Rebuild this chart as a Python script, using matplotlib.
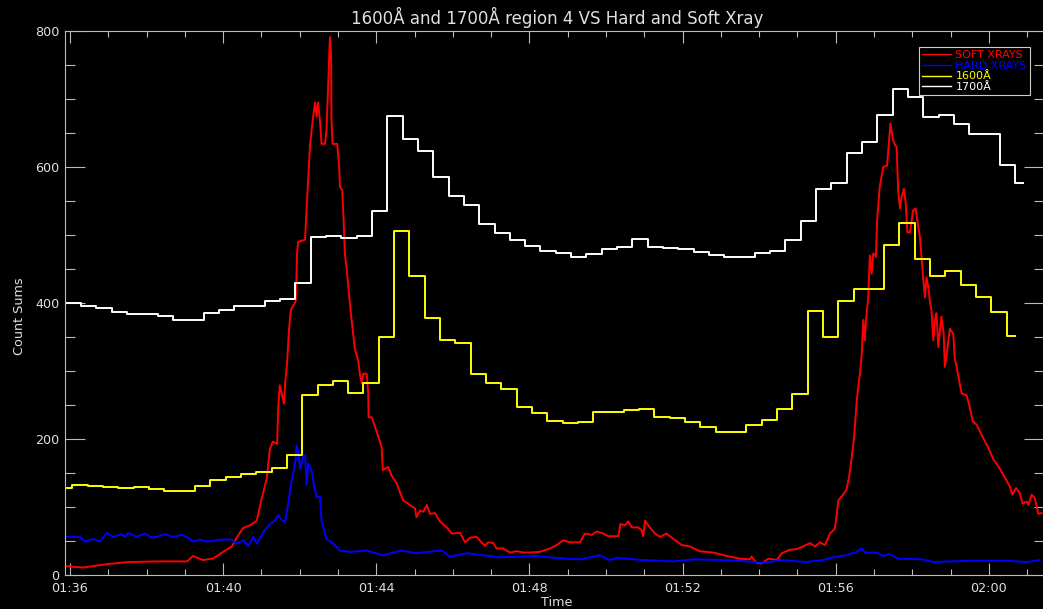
import matplotlib
matplotlib.use("Agg")
import matplotlib.pyplot as plt
import numpy as np
from matplotlib.ticker import MultipleLocator, FixedLocator, FixedFormatter

# ---------------- data (time in minutes after 01:36:00) ----------------
# 1700 A step series: 24 s cadence
t1700_start = -0.112
cadence = 0.4
v1700 = [400, 396, 392, 387, 384, 384, 381, 375, 375, 386, 390, 396, 396, 403, 406,
         430, 497, 498, 496, 498, 536, 675, 641, 623, 585, 558, 544, 516, 503, 492,
         484, 477, 474, 468, 472, 479, 482, 494, 482, 481, 480, 475, 470, 467, 467,
         474, 477, 493, 520, 567, 577, 620, 637, 677, 715, 703, 674, 677, 663, 649,
         649, 603, 577]
t1700_end = 24.89

# 1600 A step series
t1600_first = -0.112
t1600_start = 0.065
v1600 = [128, 133, 131, 129, 128, 130, 126, 123, 123, 131, 140, 144, 149, 152, 157,
         176, 264, 280, 285, 267, 282, 350, 506, 439, 378, 346, 341, 296, 282, 273,
         247, 238, 226, 223, 225, 239, 239, 242, 244, 233, 231, 225, 217, 211, 210,
         220, 228, 244, 266, 388, 350, 403, 421, 421, 485, 517, 465, 439, 447, 426,
         409, 387, 351]
t1600_end = 24.68

# Soft X-rays
soft_t = [-0.13, 0.34, 0.97, 1.51, 2.27, 3.06, 3.21, 3.47, 3.73, 4.00, 4.23, 4.39, 4.52,
          4.70, 4.88, 5.01, 5.14, 5.22, 5.30, 5.41, 5.44, 5.48, 5.59, 5.62, 5.67, 5.72,
          5.77, 5.82, 5.90, 5.93, 5.96, 6.14, 6.18, 6.24, 6.27, 6.33, 6.40, 6.44, 6.48,
          6.53, 6.57, 6.66, 6.70, 6.75, 6.79, 6.82, 6.83, 6.86, 6.98, 7.03, 7.05, 7.11,
          7.14, 7.18, 7.23, 7.34, 7.44, 7.53, 7.57, 7.62, 7.66, 7.75, 7.79, 7.80, 7.88,
          8.01, 8.14, 8.17, 8.31, 8.40, 8.53, 8.70, 8.88, 9.01, 9.05, 9.14, 9.23, 9.32,
          9.40, 9.53, 9.66, 9.84, 9.97, 10.19, 10.32, 10.45, 10.62, 10.75, 10.84, 10.92,
          11.06, 11.14, 11.32, 11.49, 11.67, 11.84, 12.01, 12.27, 12.54, 12.71, 12.88,
          13.06, 13.32, 13.45, 13.63, 13.76, 13.93, 14.06, 14.32, 14.38, 14.49, 14.58,
          14.67, 14.84, 14.93, 14.97, 15.02, 15.10, 15.28, 15.41, 15.58, 15.76, 15.98,
          16.19, 16.45, 16.80, 17.15, 17.50, 17.76, 17.80, 17.93, 18.06, 18.24, 18.46,
          18.59, 18.80, 18.98, 19.15, 19.33, 19.46, 19.59, 19.72, 19.85, 19.98, 20.07,
          20.19, 20.28, 20.35, 20.41, 20.48, 20.55, 20.61, 20.63, 20.68, 20.72, 20.76,
          20.79, 20.85, 20.89, 20.94, 20.98, 21.05, 21.08, 21.15, 21.24, 21.34, 21.40,
          21.43, 21.49, 21.55, 21.59, 21.63, 21.68, 21.72, 21.78, 21.83, 21.87, 21.94,
          22.02, 22.09, 22.15, 22.20, 22.24, 22.29, 22.33, 22.37, 22.42, 22.46, 22.50,
          22.55, 22.59, 22.63, 22.68, 22.76, 22.82, 22.85, 22.90, 22.98, 23.07, 23.11,
          23.15, 23.22, 23.29, 23.42, 23.50, 23.58, 23.68, 23.81, 23.98, 24.11, 24.29,
          24.46, 24.55, 24.61, 24.71, 24.81, 24.88, 24.99, 25.03, 25.12, 25.20, 25.29,
          25.38]
soft_v = [13, 11, 16, 19, 20, 20, 28, 22, 24, 34, 42, 58, 69,
          73, 80, 113, 142, 185, 196, 193, 247, 279, 252, 282, 311, 360,
          390, 395, 403, 473, 490, 493, 539, 600, 632, 664, 695, 674, 695,
          667, 634, 634, 654, 728, 791, 762, 669, 634, 634, 602, 571, 566,
          531, 473, 448, 383, 333, 315, 296, 282, 296, 296, 267, 232, 232,
          211, 188, 154, 159, 146, 135, 110, 103, 98, 85, 95, 93, 103,
          90, 91, 79, 70, 61, 62, 48, 55, 56, 48, 43, 48,
          47, 39, 39, 33, 35, 33, 33, 34, 39, 44, 51,
          48, 48, 61, 59, 64, 61, 57, 57, 75, 73, 79,
          70, 70, 66, 57, 80, 73, 61, 56, 61, 53, 44,
          42, 35, 33, 28, 24, 23, 27, 18, 17, 24, 22,
          32, 37, 38, 42, 47, 42, 48, 44, 61, 68, 110,
          118, 125, 144, 169, 203, 257, 287, 294, 325, 375, 345,
          375, 408, 470, 443, 473, 468, 521, 571, 600, 602, 644,
          664, 642, 632, 630, 566, 539, 556, 568, 546, 504, 504,
          536, 539, 514, 497, 468, 433, 408, 438, 423, 402, 390,
          345, 375, 385, 335, 380, 355, 306, 325, 362, 355, 318,
          309, 287, 267, 264, 247, 226, 221, 206, 188, 171, 156,
          139, 130, 118, 128, 120, 105, 108, 103, 118, 113, 90,
          91]

# Hard X-rays
hard_t = [-0.13, 0.26, 0.39, 0.61, 0.78, 0.96, 1.13, 1.35, 1.44, 1.52, 1.74, 1.96, 2.13,
          2.26, 2.48, 2.70, 2.92, 3.05, 3.22, 3.40, 3.57, 3.92, 4.22, 4.35, 4.53, 4.66,
          4.79, 4.88, 5.05, 5.22, 5.35, 5.44, 5.53, 5.62, 5.70, 5.79, 5.88, 5.92, 5.96,
          6.01, 6.05, 6.09, 6.14, 6.18, 6.22, 6.31, 6.35, 6.44, 6.53, 6.57, 6.70, 6.88,
          7.05, 7.31, 7.75, 8.18, 8.62, 9.05, 9.32, 9.71, 9.92, 10.36, 10.79, 11.23,
          11.67, 12.10, 12.54, 12.97, 13.32, 13.84, 14.10, 14.28, 14.54, 14.97, 15.76,
          16.28, 17.15, 17.67, 18.19, 18.54, 19.24, 19.67, 20.02, 20.28, 20.55, 20.68,
          20.76, 21.07, 21.24, 21.40, 21.63, 22.28, 22.55, 22.98, 23.59, 24.46, 24.99,
          25.33]
hard_v = [56, 56, 49, 53, 49, 62, 56, 60, 56, 62, 56, 61, 55,
          56, 60, 56, 59, 56, 49, 52, 49, 52, 52, 46, 51, 43,
          56, 46, 63, 75, 80, 88, 81, 78, 105, 139, 164, 191, 181,
          156, 166, 176, 176, 132, 164, 154, 139, 115, 115, 80, 53, 46,
          36, 34, 36, 29, 36, 32, 34, 36, 27, 32, 29, 26,
          27, 28, 26, 24, 23, 29, 22, 25, 24, 22, 20,
          23, 22, 20, 18, 22, 19, 22, 27, 29, 34, 39,
          33, 33, 28, 31, 24, 23, 19, 20, 21, 21, 19,
          22]

x_tick_pos = [0, 4, 8, 12, 16, 20, 24]
x_tick_labels = ["01:36", "01:40", "01:44", "01:48", "01:52", "01:56", "02:00"]
title = "1600Å and 1700Å region 4 VS Hard and Soft Xray"

# ---------------- build step arrays ----------------
t17 = list(t1700_start + cadence * np.arange(len(v1700))) + [t1700_end]
y17 = v1700 + [v1700[-1]]
t16 = [t1600_first] + list(t1600_start + cadence * np.arange(len(v1600) - 1)) + [t1600_end]
y16 = v1600 + [v1600[-1]]

# ---------------- figure ----------------
W, H = 1043, 609
fig = plt.figure(figsize=(W / 100, H / 100), dpi=100, facecolor="black")
ax = fig.add_axes([65 / W, (H - 575) / H, 979 / W, 544 / H], facecolor="black")

lw = 1.4
ax.plot(soft_t, soft_v, color="#ff0000", lw=lw, label="SOFT XRAYS")
ax.plot(hard_t, hard_v, color="#0000ff", lw=lw, label="HARD XRAYS")
ax.plot(t16, y16, drawstyle="steps-post", color="#ffff00", lw=lw, label="1600Å")
ax.plot(t17, y17, drawstyle="steps-post", color="#ffffff", lw=lw, label="1700Å")

ax.set_xlim(-0.13, 25.44)
ax.set_ylim(0, 800)

ax.xaxis.set_major_locator(FixedLocator(x_tick_pos))
ax.xaxis.set_major_formatter(FixedFormatter(x_tick_labels))
ax.xaxis.set_minor_locator(MultipleLocator(1))
ax.yaxis.set_major_locator(MultipleLocator(200))
ax.yaxis.set_minor_locator(MultipleLocator(50))

axc = "#bbbbbb"
txtc = "#e0e0e0"
ax.tick_params(which="both", direction="in", top=True, right=True, color=axc,
               labelcolor=txtc, labelsize=9.2, width=0.8)
ax.tick_params(axis="x", which="major", length=8.6, pad=5)
ax.tick_params(axis="x", which="minor", length=4.3)
ax.tick_params(axis="y", which="major", length=14.4, pad=4)
ax.tick_params(axis="y", which="minor", length=7.2)
for sp in ax.spines.values():
    sp.set_color(axc)
    sp.set_linewidth(0.8)

ax.set_xlabel("Time", color=txtc, fontsize=9.2)
ax.xaxis.set_label_coords((557 - 65) / 979, (575 - 603) / 544)
ax.xaxis.label.set_va("center")
ax.set_ylabel("Count Sums", color=txtc, fontsize=9.2)
ax.yaxis.set_label_coords((20 - 65) / 979, (575 - 316) / 544)
ax.yaxis.label.set_va("center")
ax.yaxis.label.set_ha("center")

fig.text(557 / W, 1 - 17 / H, title, ha="center", va="center", color=txtc, fontsize=12)

leg = ax.legend(loc="upper right", bbox_to_anchor=(1030 / W, 1 - 47 / H),
                bbox_transform=fig.transFigure, frameon=True, fancybox=False,
                facecolor="black", edgecolor="#cccccc", framealpha=1, fontsize=8,
                labelcolor="linecolor", handlelength=2.6, handletextpad=0.4,
                labelspacing=0.05, borderpad=0.3, borderaxespad=0)
leg.get_frame().set_linewidth(0.8)
for ln in leg.get_lines():
    ln.set_linewidth(1.0)

fig.savefig("out.png", dpi=100, facecolor="black")
